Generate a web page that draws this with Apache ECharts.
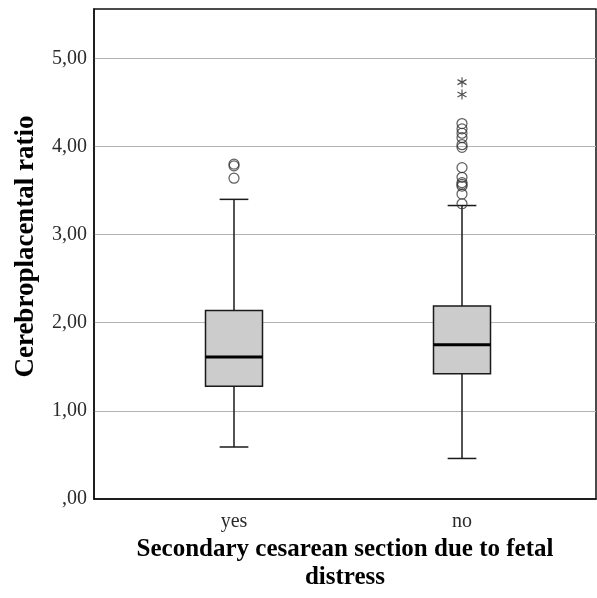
<!DOCTYPE html>
<html>
<head>
<meta charset="utf-8">
<script src="https://cdn.jsdelivr.net/npm/echarts@6/dist/echarts.min.js"></script>
<style>
   html, body { margin: 0; padding: 0; background: #ffffff; }
   #chart { width: 597px; height: 598px; }
</style>
</head>
<body>
<div id="chart"></div>
<script>
// ── Data ──────────────────────────────────────────────────────────────────
const categories = ["yes", "no"];
const whiskerLow = [0.59, 0.46];
const quartile1 = [1.28, 1.42];
const medians = [1.61, 1.75];
const quartile3 = [2.14, 2.19];
const whiskerHigh = [3.40, 3.33];
const outliersYes = [3.80, 3.78, 3.64];
const outliersNo = [4.26, 4.20, 4.15, 4.10, 4.02, 3.99, 3.76, 3.65, 3.59, 3.57, 3.55, 3.46, 3.35];
const extremesNo = [4.73, 4.59];
const yTicks = [0, 1, 2, 3, 4, 5];

// ── Style ─────────────────────────────────────────────────────────────────
const fuente = "'Liberation Serif', 'Times New Roman', serif";
const colores = {
   caja: "#cccccc",
   trazo: "#1a1a1a",
   grid: "#b4b4b4",
   texto: "#2a2a2a",
   titulo: "#000000"
};
const yMax = 5.56;

const fmtEje = (v) => {
   const txt = v.toFixed(2).replace(".", ",");
   return txt.startsWith("0,") ? txt.substring(1) : txt;
};

const cajas = categories.map((c, i) => [i, whiskerLow[i], quartile1[i], medians[i], quartile3[i], whiskerHigh[i]]);

const renderCaja = (params, api) => {
   const x = api.value(0);
   const pLow = api.coord([x, api.value(1)]);
   const pQ1 = api.coord([x, api.value(2)]);
   const pMed = api.coord([x, api.value(3)]);
   const pQ3 = api.coord([x, api.value(4)]);
   const pHigh = api.coord([x, api.value(5)]);
   const banda = api.size([1, 0])[0];
   const mitad = banda * 0.125;
   const tope = banda * 0.063;
   const cx = pMed[0];
   const linea = { stroke: colores.trazo, lineWidth: 1.5 };
   return {
      type: "group",
      children: [
         { type: "line", shape: { x1: cx, y1: pLow[1], x2: cx, y2: pQ1[1] }, style: linea },
         { type: "line", shape: { x1: cx, y1: pQ3[1], x2: cx, y2: pHigh[1] }, style: linea },
         { type: "line", shape: { x1: cx - tope, y1: pLow[1], x2: cx + tope, y2: pLow[1] }, style: linea },
         { type: "line", shape: { x1: cx - tope, y1: pHigh[1], x2: cx + tope, y2: pHigh[1] }, style: linea },
         {
            type: "rect",
            shape: { x: cx - mitad, y: pQ3[1], width: mitad * 2, height: pQ1[1] - pQ3[1] },
            style: { fill: colores.caja, stroke: colores.trazo, lineWidth: 1.5 }
         },
         { type: "line", shape: { x1: cx - mitad, y1: pMed[1], x2: cx + mitad, y2: pMed[1] }, style: { stroke: "#000", lineWidth: 3 } }
      ]
   };
};

const chart = echarts.init(document.getElementById("chart"));

chart.setOption({
   animation: false,
   backgroundColor: "#ffffff",
   textStyle: { fontFamily: fuente },
   grid: [
      { left: 94, top: 9, width: 502, height: 490, show: true, borderColor: "#111", borderWidth: 1.5, backgroundColor: "transparent" },
      { left: 120, top: 9, width: 456, height: 490 }
   ],
   xAxis: [
      {
         gridIndex: 0,
         type: "value",
         min: 0,
         max: 1,
         axisLine: { show: true, lineStyle: { color: "#111", width: 1.5 } },
         axisTick: { show: false },
         axisLabel: { show: false },
         splitLine: { show: false },
         name: "Secondary cesarean section due to fetal\ndistress",
         nameLocation: "middle",
         nameGap: 37,
         nameTextStyle: { fontFamily: fuente, fontSize: 25, fontWeight: "bold", color: colores.titulo, lineHeight: 28 }
      },
      {
         gridIndex: 1,
         type: "category",
         data: categories,
         axisLine: { show: false },
         axisTick: { show: false },
         axisLabel: { fontFamily: fuente, fontSize: 20, color: colores.texto, margin: 13 }
      }
   ],
   yAxis: [
      {
         gridIndex: 0,
         type: "value",
         min: 0,
         max: yMax,
         interval: 1,
         axisLine: { show: true, lineStyle: { color: "#111", width: 1.5 } },
         axisTick: { show: false },
         axisLabel: {
            fontFamily: fuente,
            fontSize: 20,
            color: colores.texto,
            margin: 7,
            showMaxLabel: false,
            formatter: (v) => yTicks.includes(v) ? fmtEje(v) : ""
         },
         splitLine: { show: true, showMinLine: false, showMaxLine: false, lineStyle: { color: colores.grid, width: 1 } },
         name: "Cerebroplacental ratio",
         nameLocation: "middle",
         nameGap: 54,
         nameTextStyle: { fontFamily: fuente, fontSize: 27, fontWeight: "bold", color: colores.titulo, padding: [0, 0, 0, 15] }
      },
      {
         gridIndex: 1,
         type: "value",
         min: 0,
         max: yMax,
         show: false
      }
   ],
   series: [
      {
         type: "custom",
         xAxisIndex: 1,
         yAxisIndex: 1,
         renderItem: renderCaja,
         encode: { x: 0, y: [1, 2, 3, 4, 5] },
         data: cajas,
         z: 3
      },
      {
         type: "scatter",
         xAxisIndex: 1,
         yAxisIndex: 1,
         symbol: "circle",
         symbolSize: 10,
         itemStyle: { color: "transparent", borderColor: "#333", borderWidth: 1.2 },
         data: outliersYes.map(v => [0, v]).concat(outliersNo.map(v => [1, v])),
         z: 4
      },
      {
         type: "scatter",
         xAxisIndex: 1,
         yAxisIndex: 1,
         symbol: "path://M0,-5L0,5M-4.3,-2.5L4.3,2.5M-4.3,2.5L4.3,-2.5",
         symbolSize: [9, 10],
         itemStyle: { color: "transparent", borderColor: "#222", borderWidth: 1.2 },
         data: extremesNo.map(v => [1, v]),
         z: 4
      }
   ]
});
</script>
</body>
</html>
